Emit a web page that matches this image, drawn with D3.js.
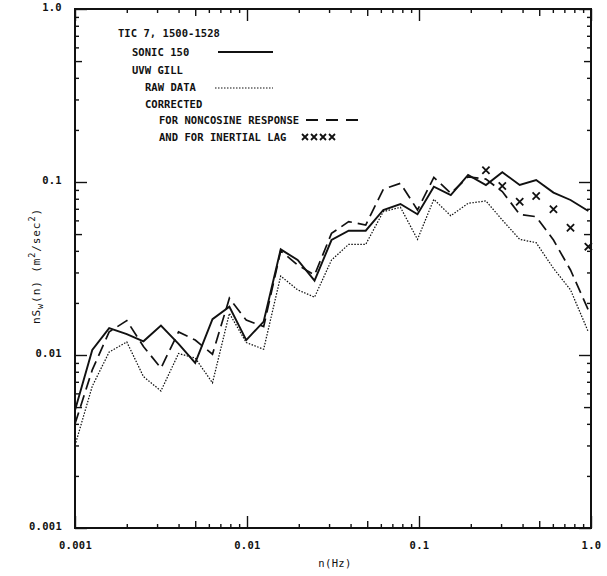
<!DOCTYPE html>
<html>
<head>
<meta charset="utf-8">
<script src="https://cdn.jsdelivr.net/npm/d3@7"></script>
<style>
  html, body { margin: 0; padding: 0; background: #fff; }
  svg { display: block; }
  text { font-family: "DejaVu Sans Mono", "Liberation Mono", monospace; fill: #111; }
</style>
</head>
<body>
<svg id="chart" width="607" height="576"></svg>
<script>
// Spectral estimate frequencies (Hz), roughly ten per decade
const freq = [0.001, 0.00126, 0.00158, 0.002, 0.0025, 0.00316, 0.004, 0.005, 0.0063, 0.0079,
              0.0099, 0.0125, 0.0157, 0.0197, 0.0247, 0.031, 0.039, 0.049, 0.062, 0.078,
              0.098, 0.122, 0.153, 0.193, 0.245, 0.305, 0.385, 0.48, 0.605, 0.76, 0.965];

// Sonic anemometer, model 150
const sonic = [0.0048, 0.0107, 0.0143, 0.0132, 0.0120, 0.0148, 0.0116, 0.0090, 0.0161, 0.0190,
               0.0122, 0.0156, 0.0408, 0.0354, 0.0269, 0.0462, 0.0523, 0.0523, 0.0689, 0.0746,
               0.0651, 0.0940, 0.0841, 0.1098, 0.0961, 0.1138, 0.0961, 0.1027, 0.0868, 0.0787, 0.0680];

// UVW Gill, raw data
const gillRaw = [0.0030, 0.0066, 0.0104, 0.0119, 0.0075, 0.0062, 0.0102, 0.0096, 0.0069, 0.0174,
                 0.0118, 0.0108, 0.0286, 0.0238, 0.0216, 0.0354, 0.0436, 0.0436, 0.0674, 0.0714,
                 0.0466, 0.0794, 0.0638, 0.0753, 0.0777, 0.0603, 0.0466, 0.0446, 0.0317, 0.0238, 0.0136];

// UVW Gill, corrected for noncosine response
const gillCosine = [0.0040, 0.0082, 0.0136, 0.0158, 0.0112, 0.0084, 0.0136, 0.0122, 0.0101, 0.0213,
                    0.0159, 0.0146, 0.0400, 0.0331, 0.0290, 0.0505, 0.0590, 0.0564, 0.0908, 0.0983,
                    0.0689, 0.1064, 0.0860, 0.1070, 0.1040, 0.0880, 0.0650, 0.0630, 0.0462, 0.0310, 0.0182];

// UVW Gill, corrected for noncosine response and inertial lag (high frequencies only)
const lagFreq = [0.245, 0.305, 0.385, 0.48, 0.605, 0.76, 0.965];
const gillLag = [0.117, 0.0948, 0.0769, 0.083, 0.0695, 0.0544, 0.0423];

// Axis labels
const xTickValues = [0.001, 0.01, 0.1, 1];
const xTickLabels = ["0.001", "0.01", "0.1", "1.0"];
const yTickValues = [0.001, 0.01, 0.1, 1];
const yTickLabels = ["0.001", "0.01", "0.1", "1.0"];

const legendTitle = "TIC 7, 1500-1528";
const legendLines = ["SONIC 150", "UVW GILL", "RAW DATA", "CORRECTED",
                     "FOR NONCOSINE RESPONSE", "AND FOR INERTIAL LAG"];

const svg = d3.select("#chart");
const L = 75, R = 591, T = 9, B = 528;

const x = d3.scaleLog().domain([0.001, 1]).range([L, R]);
const y = d3.scaleLog().domain([0.001, 1]).range([B, T]);

// every 1..9 multiple within the three decades
const allTicks = [];
[0.001, 0.01, 0.1].forEach(d => { for (let m = 1; m <= 9; m++) allTicks.push(+(m * d).toPrecision(3)); });
allTicks.push(1);
const mant = v => Math.round(v / Math.pow(10, Math.floor(Math.log10(v) + 1e-9)));
const tickLen = v => { const m = mant(v); return m === 1 ? 12 : (m === 5 ? 7 : 4); };

function styleAxis(g, dir) {
  g.select(".domain").remove();
  g.selectAll(".tick line").attr("stroke", "#111").attr("stroke-width", 1.4)
    .each(function(d) {
      const len = tickLen(d);
      const ln = d3.select(this);
      if (dir === "bottom") ln.attr("y2", -len);
      if (dir === "top") ln.attr("y2", len);
      if (dir === "left") ln.attr("x2", len);
      if (dir === "right") ln.attr("x2", -len);
    });
}

const fmtX = v => { const i = xTickValues.findIndex(t => Math.abs(t - v) / t < 1e-6); return i >= 0 ? xTickLabels[i] : ""; };
const fmtY = v => { const i = yTickValues.findIndex(t => Math.abs(t - v) / t < 1e-6); return i >= 0 ? yTickLabels[i] : ""; };

svg.append("g").attr("transform", `translate(0,${B})`)
  .call(d3.axisBottom(x).tickValues(allTicks).tickFormat(fmtX).tickSize(0).tickPadding(14))
  .call(g => styleAxis(g, "bottom"))
  .call(g => g.selectAll("text").attr("font-size", 10.5).attr("font-weight", "bold")
    .attr("letter-spacing", 0.3).style("font-family", "DejaVu Sans Mono").attr("fill", "#111"));

svg.append("g").attr("transform", `translate(0,${T})`)
  .call(d3.axisTop(x).tickValues(allTicks).tickFormat("").tickSize(0))
  .call(g => styleAxis(g, "top"));

svg.append("g").attr("transform", `translate(${L},0)`)
  .call(d3.axisLeft(y).tickValues(allTicks).tickFormat(fmtY).tickSize(0).tickPadding(13))
  .call(g => styleAxis(g, "left"))
  .call(g => g.selectAll("text").attr("font-size", 10.5).attr("font-weight", "bold")
    .attr("letter-spacing", 0.3).attr("dy", "0.12em").style("font-family", "DejaVu Sans Mono").attr("fill", "#111"));

svg.append("g").attr("transform", `translate(${R},0)`)
  .call(d3.axisRight(y).tickValues(allTicks).tickFormat("").tickSize(0))
  .call(g => styleAxis(g, "right"));

// frame
svg.append("rect").attr("x", L).attr("y", T).attr("width", R - L).attr("height", B - T)
  .attr("fill", "none").attr("stroke", "#111").attr("stroke-width", 2);

// axis titles
svg.append("text").attr("x", (L + R) / 2 + 2).attr("y", 567).attr("text-anchor", "middle")
  .attr("font-size", 10.5).attr("letter-spacing", 0.4).text("n(Hz)");

const yt = svg.append("text").attr("transform", "translate(40,266) rotate(-90)")
  .attr("text-anchor", "middle").attr("font-size", 11).attr("letter-spacing", 0.9);
yt.append("tspan").text("nS");
yt.append("tspan").attr("font-size", 8.5).attr("dy", 3).text("w");
yt.append("tspan").attr("dy", -3).text("(n)  (m");
yt.append("tspan").attr("font-size", 8.5).attr("dy", -5).text("2");
yt.append("tspan").attr("dy", 5).text("/sec");
yt.append("tspan").attr("font-size", 8.5).attr("dy", -5).text("2");
yt.append("tspan").attr("dy", 5).text(")");

// series
const line = d3.line().x(d => x(d[0])).y(d => y(d[1]));
const plot = svg.append("g");

plot.append("path").datum(d3.zip(freq, gillRaw)).attr("d", line)
  .attr("fill", "none").attr("stroke", "#111").attr("stroke-width", 1.25)
  .attr("stroke-dasharray", "1.5,1.5");

plot.append("path").datum(d3.zip(freq, gillCosine)).attr("d", line)
  .attr("fill", "none").attr("stroke", "#111").attr("stroke-width", 1.7)
  .attr("stroke-dasharray", "12,6");

plot.append("path").datum(d3.zip(freq, sonic)).attr("d", line)
  .attr("fill", "none").attr("stroke", "#111").attr("stroke-width", 1.9)
  .attr("stroke-linejoin", "miter");

const cross = (g, cx, cy, s) => {
  g.append("path").attr("d", `M${cx - s},${cy - s}L${cx + s},${cy + s}M${cx - s},${cy + s}L${cx + s},${cy - s}`)
    .attr("stroke", "#111").attr("stroke-width", 1.8).attr("fill", "none");
};
d3.zip(lagFreq, gillLag).forEach(d => cross(plot, x(d[0]), y(d[1]), 3.6));

// legend
const leg = svg.append("g").attr("font-size", 10.5).attr("font-weight", "bold").attr("letter-spacing", 0.05);
leg.append("text").attr("x", 118).attr("y", 37).text(legendTitle);
const rows = [[132, 56], [132, 74], [145, 91], [145, 108], [159, 124], [159, 141]];
legendLines.forEach((t, i) => leg.append("text").attr("x", rows[i][0]).attr("y", rows[i][1]).text(t));

leg.append("line").attr("x1", 218).attr("x2", 273).attr("y1", 52).attr("y2", 52)
  .attr("stroke", "#111").attr("stroke-width", 1.9);
leg.append("line").attr("x1", 215).attr("x2", 273).attr("y1", 88).attr("y2", 88)
  .attr("stroke", "#111").attr("stroke-width", 1.2).attr("stroke-dasharray", "1.5,1.5");
leg.append("line").attr("x1", 306).attr("x2", 360).attr("y1", 120).attr("y2", 120)
  .attr("stroke", "#111").attr("stroke-width", 1.8).attr("stroke-dasharray", "12,8");
[305, 314, 323, 332].forEach(cx => cross(leg, cx, 137, 3));
</script>
</body>
</html>
